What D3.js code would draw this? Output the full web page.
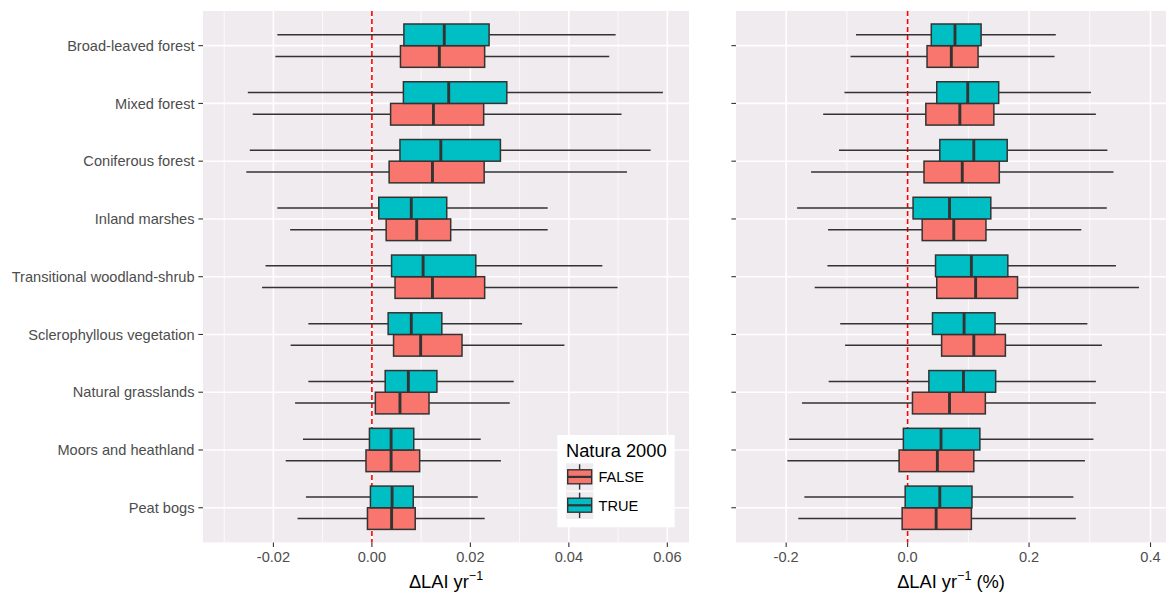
<!DOCTYPE html>
<html lang="en">
<head>
<meta charset="UTF-8">
<script src="https://d3js.org/d3.v7.min.js"></script>
<title>Delta LAI by land cover</title>
<style>
  body { margin: 0; background: #fff; font-family: "Liberation Sans", Arial, sans-serif; }
  svg { display: block; }
</style>
</head>
<body>
<svg id="chart" width="1171" height="594"></svg>
<script>
const categories = [
    "Broad-leaved forest", "Mixed forest", "Coniferous forest", "Inland marshes",
    "Transitional woodland-shrub", "Sclerophyllous vegetation", "Natural grasslands",
    "Moors and heathland", "Peat bogs"
];
const groups = ["FALSE", "TRUE"];
const groupColors = ["#F8766D", "#00BFC4"];

// each entry: [lower whisker, q1, median, q3, upper whisker]
const absFalse = [
    [-0.0196, 0.0058, 0.0137, 0.0229, 0.0482],
    [-0.0242, 0.0038, 0.0125, 0.0227, 0.0507],
    [-0.0255, 0.0035, 0.0123, 0.0228, 0.0518],
    [-0.0166, 0.0029, 0.0091, 0.0160, 0.0357],
    [-0.0223, 0.0047, 0.0123, 0.0229, 0.0499],
    [-0.0165, 0.0044, 0.0099, 0.0183, 0.0391],
    [-0.0156, 0.0007, 0.0057, 0.0116, 0.0280],
    [-0.0175, -0.0012, 0.0039, 0.0097, 0.0262],
    [-0.0151, -0.0009, 0.0040, 0.0088, 0.0229]
];
const absTrue = [
    [-0.0192, 0.0065, 0.0147, 0.0238, 0.0495],
    [-0.0252, 0.0064, 0.0156, 0.0274, 0.0591],
    [-0.0248, 0.0057, 0.0140, 0.0261, 0.0566],
    [-0.0192, 0.0014, 0.0080, 0.0152, 0.0357],
    [-0.0216, 0.0040, 0.0104, 0.0211, 0.0468],
    [-0.0129, 0.0033, 0.0080, 0.0142, 0.0305],
    [-0.0129, 0.0027, 0.0074, 0.0132, 0.0288],
    [-0.0140, -0.0005, 0.0039, 0.0085, 0.0221],
    [-0.0134, -0.0003, 0.0041, 0.0084, 0.0215]
];
const relFalse = [
    [-0.094, 0.032, 0.072, 0.116, 0.242],
    [-0.139, 0.030, 0.086, 0.142, 0.310],
    [-0.159, 0.027, 0.090, 0.151, 0.339],
    [-0.131, 0.024, 0.076, 0.129, 0.286],
    [-0.153, 0.048, 0.112, 0.181, 0.381],
    [-0.103, 0.056, 0.109, 0.161, 0.320],
    [-0.174, 0.008, 0.069, 0.128, 0.310],
    [-0.198, -0.014, 0.049, 0.109, 0.292],
    [-0.180, -0.009, 0.047, 0.105, 0.277]
];
const relTrue = [
    [-0.085, 0.039, 0.078, 0.121, 0.244],
    [-0.104, 0.048, 0.099, 0.150, 0.302],
    [-0.113, 0.053, 0.109, 0.164, 0.329],
    [-0.182, 0.009, 0.069, 0.137, 0.328],
    [-0.132, 0.046, 0.105, 0.165, 0.343],
    [-0.111, 0.041, 0.093, 0.144, 0.296],
    [-0.130, 0.035, 0.092, 0.145, 0.310],
    [-0.195, -0.007, 0.055, 0.119, 0.306],
    [-0.170, -0.004, 0.053, 0.106, 0.273]
];

const absTicks = [-0.02, 0, 0.02, 0.04, 0.06];
const absMinor = [-0.03, -0.01, 0.01, 0.03, 0.05];
const relTicks = [-0.2, 0, 0.2, 0.4];
const relMinor = [-0.1, 0.1, 0.3];

const svg = d3.select("#chart");
const panelTop = 11, panelBottom = 542.4;
const panelBg = "#EFEBEF";
const textGrey = "#4D4D4D";

const y = d3.scalePoint().domain(categories).range([panelTop, panelBottom]).padding(0.6);
const boxH = y.step() * 0.375;

function drawPanel(opt) {
    const x = d3.scaleLinear().domain(opt.domain).range([opt.x0, opt.x1]);
    const g = svg.append("g");

    g.append("rect")
        .attr("x", opt.x0).attr("y", panelTop)
        .attr("width", opt.x1 - opt.x0).attr("height", panelBottom - panelTop)
        .attr("fill", panelBg);

    // minor grid
    g.selectAll(".minor").data(opt.minor).join("line")
        .attr("x1", d => x(d)).attr("x2", d => x(d))
        .attr("y1", panelTop).attr("y2", panelBottom)
        .attr("stroke", "#fff").attr("stroke-width", 0.8);
    // major grid
    g.selectAll(".majx").data(opt.ticks).join("line")
        .attr("x1", d => x(d)).attr("x2", d => x(d))
        .attr("y1", panelTop).attr("y2", panelBottom)
        .attr("stroke", "#fff").attr("stroke-width", 1.6);
    g.selectAll(".majy").data(categories).join("line")
        .attr("x1", opt.x0).attr("x2", opt.x1)
        .attr("y1", d => y(d)).attr("y2", d => y(d))
        .attr("stroke", "#fff").attr("stroke-width", 1.6);

    // zero line
    g.append("line")
        .attr("x1", x(0)).attr("x2", x(0))
        .attr("y1", panelTop).attr("y2", panelBottom)
        .attr("stroke", "#FF0000").attr("stroke-width", 1.6)
        .attr("stroke-dasharray", "5,3");

    // boxes, FALSE below the category line and TRUE above it
    opt.series.forEach((vals, gi) => {
        const rows = vals.map((v, i) => ({cat: categories[i], v: v}));
        const y0 = d => gi === 0 ? y(d.cat) : y(d.cat) - boxH;
        const bg = g.append("g");
        bg.selectAll(".wl").data(rows).join("line")
            .attr("x1", d => x(d.v[0])).attr("x2", d => x(d.v[1]))
            .attr("y1", d => y0(d) + boxH / 2).attr("y2", d => y0(d) + boxH / 2)
            .attr("stroke", "#333").attr("stroke-width", 1.5);
        bg.selectAll(".wh").data(rows).join("line")
            .attr("x1", d => x(d.v[3])).attr("x2", d => x(d.v[4]))
            .attr("y1", d => y0(d) + boxH / 2).attr("y2", d => y0(d) + boxH / 2)
            .attr("stroke", "#333").attr("stroke-width", 1.5);
        bg.selectAll("rect").data(rows).join("rect")
            .attr("x", d => x(d.v[1])).attr("width", d => x(d.v[3]) - x(d.v[1]))
            .attr("y", y0).attr("height", boxH)
            .attr("fill", groupColors[gi])
            .attr("stroke", "#333").attr("stroke-width", 1.5);
        bg.selectAll(".med").data(rows).join("line")
            .attr("x1", d => x(d.v[2])).attr("x2", d => x(d.v[2]))
            .attr("y1", y0).attr("y2", d => y0(d) + boxH)
            .attr("stroke", "#333").attr("stroke-width", 2.9);
    });

    // y ticks
    g.selectAll(".yt").data(categories).join("line")
        .attr("x1", opt.x0 - 4.6).attr("x2", opt.x0)
        .attr("y1", d => y(d)).attr("y2", d => y(d))
        .attr("stroke", "#333").attr("stroke-width", 1.1);
    if (opt.labels) {
        g.selectAll(".yl").data(categories).join("text")
            .attr("x", opt.x0 - 8.5).attr("y", d => y(d))
            .attr("dy", "0.35em")
            .attr("text-anchor", "end")
            .attr("font-size", "14.6px").attr("fill", textGrey)
            .text(d => d);
    }

    // x ticks
    g.selectAll(".xt").data(opt.ticks).join("line")
        .attr("x1", d => x(d)).attr("x2", d => x(d))
        .attr("y1", panelBottom).attr("y2", panelBottom + 4.6)
        .attr("stroke", "#333").attr("stroke-width", 1.1);
    g.selectAll(".xl").data(opt.ticks).join("text")
        .attr("x", d => x(d)).attr("y", 561.7)
        .attr("text-anchor", "middle")
        .attr("font-size", "14.6px").attr("fill", textGrey)
        .text(d => d.toFixed(opt.digits));

    const t = g.append("text")
        .attr("x", (opt.x0 + opt.x1) / 2).attr("y", 588)
        .attr("text-anchor", "middle")
        .attr("font-size", "18.3px").attr("fill", "#000");
    t.append("tspan").text("\u0394LAI yr");
    t.append("tspan").attr("dy", -8).attr("font-size", "12.5px").text("\u22121");
    if (opt.suffix) t.append("tspan").attr("dy", 8).text(opt.suffix);
    return x;
}

drawPanel({x0: 203, x1: 689, domain: [-0.0343, 0.0644], ticks: absTicks, minor: absMinor,
    digits: 2, series: [absFalse, absTrue], labels: true});
drawPanel({x0: 736, x1: 1166, domain: [-0.2826, 0.4255], ticks: relTicks, minor: relMinor,
    digits: 1, series: [relFalse, relTrue], labels: false, suffix: " (%)"});

// legend
const lg = svg.append("g").attr("transform", "translate(557.3,435)");
lg.append("rect").attr("width", 117.4).attr("height", 92.3).attr("fill", "#fff");
lg.append("text").attr("x", 8.7).attr("y", 21.7)
    .attr("font-size", "18.3px").attr("fill", "#000").text("Natura 2000");
const keys = lg.selectAll(".key").data(groups).join("g")
    .attr("transform", (d, i) => `translate(8.7,${28.3 + i * 28.4})`);
keys.append("rect").attr("width", 27.3).attr("height", 27.3).attr("fill", panelBg);
keys.append("line").attr("x1", 13.6).attr("x2", 13.6).attr("y1", 1).attr("y2", 26.3)
    .attr("stroke", "#333").attr("stroke-width", 1.4);
keys.append("rect").attr("x", 1.7).attr("y", 6.5).attr("width", 24).attr("height", 14)
    .attr("fill", (d, i) => groupColors[i]).attr("stroke", "#333").attr("stroke-width", 1.4);
keys.append("line").attr("x1", 1.7).attr("x2", 25.7).attr("y1", 13.6).attr("y2", 13.6)
    .attr("stroke", "#333").attr("stroke-width", 2.2);
keys.append("text").attr("x", 32.5).attr("y", 13.6).attr("dy", "0.36em")
    .attr("font-size", "14.6px").attr("fill", "#000").text(d => d);
</script>
</body>
</html>
